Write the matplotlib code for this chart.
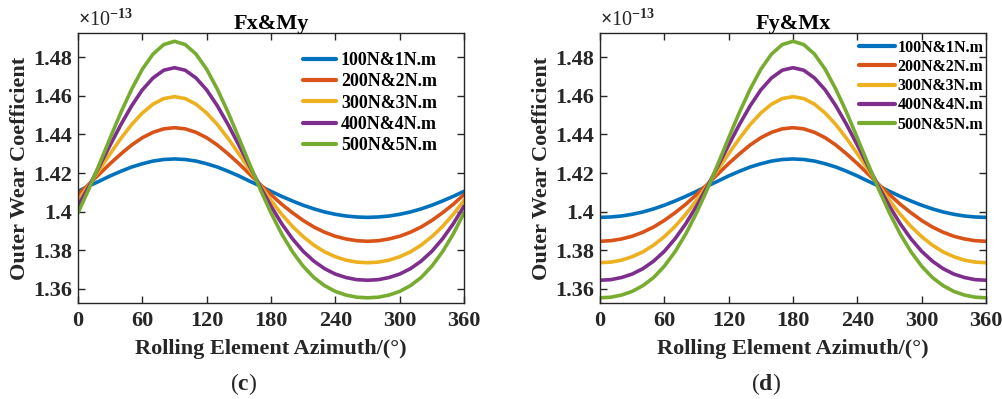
import matplotlib
matplotlib.use("Agg")
import matplotlib.pyplot as plt

plt.rcParams['font.family'] = ['Liberation Serif', 'DejaVu Serif']
plt.rcParams['font.weight'] = 'bold'
plt.rcParams['mathtext.fontset'] = 'custom'
plt.rcParams['mathtext.rm'] = 'Liberation Serif'
plt.rcParams['mathtext.bf'] = 'Liberation Serif:bold'

azimuth = list(range(0, 361, 10))
labels = ["100N&1N.m", "200N&2N.m", "300N&3N.m", "400N&4N.m", "500N&5N.m"]
colors = ["#0072BD", "#D95319", "#EDB120", "#7E2F8E", "#77AC30"]
xticks = [0, 60, 120, 180, 240, 300, 360]
yticks = [1.36, 1.38, 1.40, 1.42, 1.44, 1.46, 1.48]
yticklabels = ["1.36", "1.38", "1.4", "1.42", "1.44", "1.46", "1.48"]

# Fx&My  (values in units of 1e-13)
c_100 = [1.4105, 1.4132, 1.4158, 1.4185, 1.4209, 1.4231, 1.4248, 1.4262, 1.4270, 1.4273,
         1.4270, 1.4262, 1.4248, 1.4231, 1.4209, 1.4185, 1.4158, 1.4132, 1.4105, 1.4079,
         1.4055, 1.4033, 1.4014, 1.3998, 1.3986, 1.3977, 1.3972, 1.3970, 1.3972, 1.3977,
         1.3986, 1.3998, 1.4014, 1.4033, 1.4055, 1.4079, 1.4105]
c_200 = [1.4088, 1.4141, 1.4195, 1.4249, 1.4299, 1.4345, 1.4383, 1.4411, 1.4429, 1.4435,
         1.4429, 1.4411, 1.4383, 1.4345, 1.4299, 1.4249, 1.4195, 1.4141, 1.4088, 1.4038,
         1.3994, 1.3954, 1.3920, 1.3893, 1.3872, 1.3858, 1.3849, 1.3846, 1.3849, 1.3858,
         1.3872, 1.3893, 1.3920, 1.3954, 1.3994, 1.4038, 1.4088]
c_300 = [1.4058, 1.4136, 1.4218, 1.4300, 1.4379, 1.4451, 1.4511, 1.4557, 1.4586, 1.4596,
         1.4586, 1.4557, 1.4511, 1.4451, 1.4379, 1.4300, 1.4218, 1.4136, 1.4058, 1.3986,
         1.3923, 1.3870, 1.3826, 1.3791, 1.3766, 1.3748, 1.3738, 1.3735, 1.3738, 1.3748,
         1.3766, 1.3791, 1.3826, 1.3870, 1.3923, 1.3986, 1.4058]
c_400 = [1.4028, 1.4129, 1.4236, 1.4345, 1.4451, 1.4548, 1.4631, 1.4693, 1.4733, 1.4746,
         1.4733, 1.4693, 1.4631, 1.4548, 1.4451, 1.4345, 1.4236, 1.4129, 1.4028, 1.3937,
         1.3859, 1.3794, 1.3743, 1.3704, 1.3676, 1.3658, 1.3647, 1.3644, 1.3647, 1.3658,
         1.3676, 1.3704, 1.3743, 1.3794, 1.3859, 1.3937, 1.4028]
c_500 = [1.3993, 1.4115, 1.4247, 1.4382, 1.4514, 1.4634, 1.4738, 1.4817, 1.4866, 1.4883,
         1.4866, 1.4817, 1.4738, 1.4634, 1.4514, 1.4382, 1.4247, 1.4115, 1.3993, 1.3884,
         1.3792, 1.3717, 1.3658, 1.3616, 1.3586, 1.3567, 1.3556, 1.3553, 1.3556, 1.3567,
         1.3586, 1.3616, 1.3658, 1.3717, 1.3792, 1.3884, 1.3993]

# Fy&Mx
d_100 = [1.3970, 1.3972, 1.3977, 1.3986, 1.3998, 1.4014, 1.4033, 1.4055, 1.4079, 1.4105,
         1.4132, 1.4158, 1.4185, 1.4209, 1.4231, 1.4248, 1.4262, 1.4270, 1.4273, 1.4270,
         1.4262, 1.4248, 1.4231, 1.4209, 1.4185, 1.4158, 1.4132, 1.4105, 1.4079, 1.4055,
         1.4033, 1.4014, 1.3998, 1.3986, 1.3977, 1.3972, 1.3970]
d_200 = [1.3846, 1.3849, 1.3858, 1.3872, 1.3893, 1.3920, 1.3954, 1.3994, 1.4038, 1.4088,
         1.4141, 1.4195, 1.4249, 1.4299, 1.4345, 1.4383, 1.4411, 1.4429, 1.4435, 1.4429,
         1.4411, 1.4383, 1.4345, 1.4299, 1.4249, 1.4195, 1.4141, 1.4088, 1.4038, 1.3994,
         1.3954, 1.3920, 1.3893, 1.3872, 1.3858, 1.3849, 1.3846]
d_300 = [1.3735, 1.3738, 1.3748, 1.3766, 1.3791, 1.3826, 1.3870, 1.3923, 1.3986, 1.4058,
         1.4136, 1.4218, 1.4300, 1.4379, 1.4451, 1.4511, 1.4557, 1.4586, 1.4596, 1.4586,
         1.4557, 1.4511, 1.4451, 1.4379, 1.4300, 1.4218, 1.4136, 1.4058, 1.3986, 1.3923,
         1.3870, 1.3826, 1.3791, 1.3766, 1.3748, 1.3738, 1.3735]
d_400 = [1.3644, 1.3647, 1.3658, 1.3676, 1.3704, 1.3743, 1.3794, 1.3859, 1.3937, 1.4028,
         1.4129, 1.4236, 1.4345, 1.4451, 1.4548, 1.4631, 1.4693, 1.4733, 1.4746, 1.4733,
         1.4693, 1.4631, 1.4548, 1.4451, 1.4345, 1.4236, 1.4129, 1.4028, 1.3937, 1.3859,
         1.3794, 1.3743, 1.3704, 1.3676, 1.3658, 1.3647, 1.3644]
d_500 = [1.3553, 1.3556, 1.3567, 1.3586, 1.3616, 1.3658, 1.3717, 1.3792, 1.3884, 1.3993,
         1.4115, 1.4247, 1.4382, 1.4514, 1.4634, 1.4738, 1.4817, 1.4866, 1.4883, 1.4866,
         1.4817, 1.4738, 1.4634, 1.4514, 1.4382, 1.4247, 1.4115, 1.3993, 1.3884, 1.3792,
         1.3717, 1.3658, 1.3616, 1.3586, 1.3567, 1.3556, 1.3553]

panels = [
    ("Fx&My", "c", [c_100, c_200, c_300, c_400, c_500]),
    ("Fy&Mx", "d", [d_100, d_200, d_300, d_400, d_500]),
]

W, H = 1002, 399
fig = plt.figure(figsize=(W / 100, H / 100), dpi=100)

ax_px = [(78, 33, 464, 303), (600, 33, 986, 303)]
legend_cfg = [
    dict(fontsize=13.0, anchor=(0.583, 0.93), handlelength=1.85, handletextpad=0.25, labelspacing=0.24),
    dict(fontsize=11.5, anchor=(0.672, 0.975), handlelength=2.2, handletextpad=0.2, labelspacing=0.2),
]

for (title, letter, series), (l, t, r, b), lc in zip(panels, ax_px, legend_cfg):
    ax = fig.add_axes([l / W, 1 - b / H, (r - l) / W, (b - t) / H])
    for vals, lab, col in zip(series, labels, colors):
        ax.plot(azimuth, vals, color=col, lw=2.6, label=lab, solid_capstyle='round',
                solid_joinstyle='round')
    ax.set_xlim(0, 360)
    ax.set_ylim(1.3526, 1.4926)
    ax.set_xticks(xticks)
    ax.set_xticklabels([str(v) for v in xticks])
    ax.set_yticks(yticks)
    ax.set_yticklabels(yticklabels)
    ax.tick_params(direction='in', top=True, right=True, length=5, width=1,
                   labelsize=16, colors='#262626', labelcolor='#262626')
    ax.tick_params(axis='x', pad=6)
    ax.tick_params(axis='y', pad=4)
    for lbl in ax.get_xticklabels() + ax.get_yticklabels():
        lbl.set_fontweight('bold')
    for sp in ax.spines.values():
        sp.set_linewidth(1.0)
        sp.set_color('#262626')
    ax.set_title(title, fontsize=16, fontweight='bold', pad=3, color='black')
    ax.set_xlabel("Rolling Element Azimuth/(°)", fontsize=16, fontweight='bold',
                  color='#262626')
    ax.xaxis.label.set_va('center')
    ax.xaxis.set_label_coords(0.5, -0.172)
    ax.set_ylabel("Outer Wear Coefficient", fontsize=16, fontweight='bold',
                  color='#262626')
    ax.yaxis.label.set_va('center')
    ax.yaxis.set_label_coords(-0.150, 0.5)
    ax.text(0.0, 1.01, r"$\times$10$^{-13}$", transform=ax.transAxes, fontsize=14.5,
            fontweight='normal', color='#262626', ha='left', va='bottom')
    ax.text(0.43, -0.3, "(" + r"$\mathbf{" + letter + "}$" + ")", transform=ax.transAxes,
            fontsize=17, ha='center', va='center', fontweight='normal', color='#262626')
    leg = ax.legend(loc='upper left', bbox_to_anchor=lc['anchor'], frameon=False,
                    fontsize=lc['fontsize'], handlelength=lc['handlelength'],
                    handletextpad=lc['handletextpad'], labelspacing=lc['labelspacing'],
                    borderaxespad=0, borderpad=0)
    for txt in leg.get_texts():
        txt.set_fontweight('bold')
    for ln in leg.get_lines():
        ln.set_linewidth(3)

fig.savefig("out.png", dpi=100)
